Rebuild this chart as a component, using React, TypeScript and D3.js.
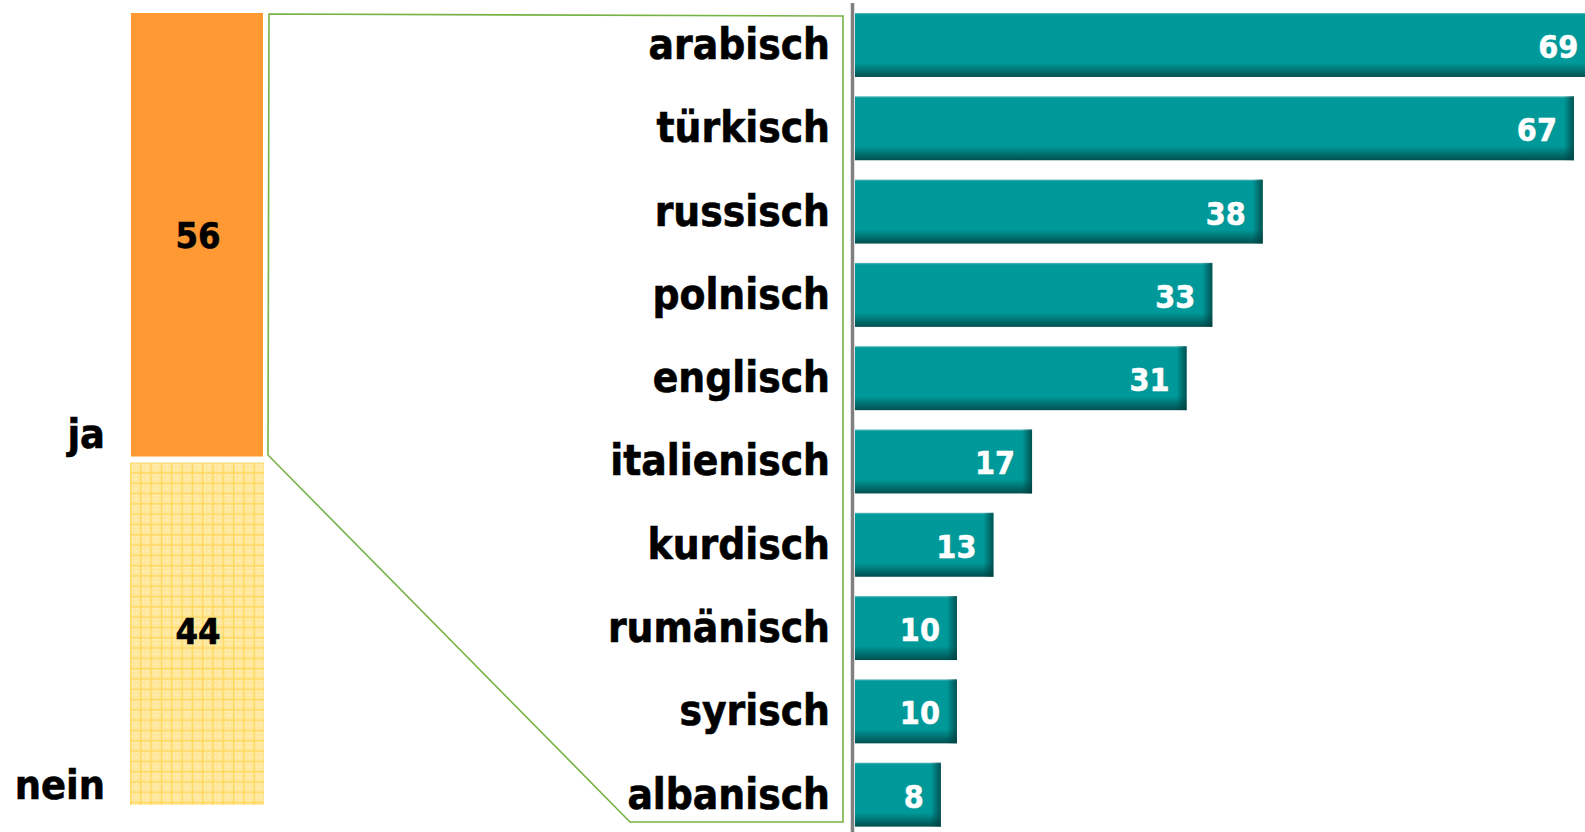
import React from "react";
import * as d3 from "d3";

const categories = ["arabisch", "türkisch", "russisch", "polnisch", "englisch", "italienisch", "kurdisch", "rumänisch", "syrisch", "albanisch"];
const values = [69, 67, 38, 33.3, 30.9, 16.5, 12.9, 9.5, 9.5, 8];
const splitLabels = ["ja", "nein"];
const splitValues = [56, 44];

const W = 1585;
const H = 832;
const FONT = "'DejaVu Sans Condensed', 'DejaVu Sans', sans-serif";

export default function App() {
  const y = d3.scaleBand<string>().domain(categories).range([3.34, 836.3]).paddingInner(0.232).paddingOuter(0.116);
  const x = d3.scaleLinear().domain([0, 100]).range([855, 855 + 1073]);
  const ys = d3.scaleLinear().domain([0, 100]).range([13, 805]);
  const stacks = d3.stack<any>().keys(splitLabels)([Object.fromEntries(splitLabels.map((k, i) => [k, splitValues[i]]))]);
  const bh = y.bandwidth();

  return (
    <svg width={W} height={H} style={{ position: "absolute", left: 0, top: 0, background: "#fff" }} fontFamily={FONT}>
      <defs>
        <linearGradient id="vgrad" x1="0" y1="0" x2="0" y2="1">
          <stop offset="0" stopColor="#5cbaba" />
          <stop offset="0.03" stopColor="#009999" />
          <stop offset="0.78" stopColor="#009999" />
          <stop offset="1" stopColor="#004f4f" />
        </linearGradient>
        <linearGradient id="hgrad" x1="0" y1="0" x2="1" y2="0">
          <stop offset="0" stopColor="#003f3f" stopOpacity="0" />
          <stop offset="1" stopColor="#003f3f" stopOpacity="0.8" />
        </linearGradient>
        <pattern id="grid" width="10.3" height="10.3" patternUnits="userSpaceOnUse" x="130" y="462">
          <rect width="10.3" height="10.3" fill="#FFE79C" />
          <rect x="2" y="2" width="1.2" height="1.2" fill="#fff" opacity="0.8" />
          <rect x="6" y="6" width="1.2" height="1.2" fill="#fff" opacity="0.8" />
          <rect x="6" y="2" width="1.2" height="1.2" fill="#fff" opacity="0.6" />
          <rect x="2" y="6" width="1.2" height="1.2" fill="#fff" opacity="0.6" />
          <rect x="0" y="0" width="1.4" height="10.3" fill="#FFD44F" opacity="0.8" />
          <rect x="0" y="0" width="10.3" height="1.4" fill="#FFD44F" opacity="0.8" />
        </pattern>
      </defs>

      {/* left stacked bar */}
      {stacks.map((s, i) => {
        const d = s[0];
        const y0 = ys(d[0]);
        const y1 = ys(d[1]);
        return (
          <g key={s.key}>
            <rect x={i === 0 ? 131 : 130} y={i === 0 ? y0 : y0 + 6} width={i === 0 ? 132 : 134} height={i === 0 ? y1 - y0 : y1 - y0 - 6}
              fill={i === 0 ? "#FF9933" : "url(#grid)"} />
            <text x={198} y={(y0 + y1) / 2 + 13} textAnchor="middle" fontSize={36} fontWeight="bold" fill="#000" stroke="#000" strokeWidth={0.6}>{splitValues[i]}</text>
            <text x={105} y={i === 0 ? 448 : 799} textAnchor="end" fontSize={41} fontWeight="bold" fill="#000" stroke="#000" strokeWidth={0.6}>{splitLabels[i]}</text>
          </g>
        );
      })}

      {/* connector polygon */}
      <path d={`M269,14 L843,16 L843,822 L630,822 L268,455 Z`} fill="none" stroke="#76B244" strokeWidth={1.6} />

      {/* axis line */}
      <line x1={852.5} x2={852.5} y1={3} y2={H} stroke="#808080" strokeWidth={3.5} />

      {/* bars */}
      {categories.map((c, i) => {
        const y0 = y(c)!;
        const xe = x(values[i]);
        return (
          <g key={c}>
            <rect x={855} y={y0} width={xe - 855} height={bh} fill="url(#vgrad)" />
            <rect x={xe - 10} y={y0} width={10} height={bh} fill="url(#hgrad)" />
            <text x={xe - 17} y={y0 + bh / 2 + 13} textAnchor="end" fontSize={32} fontWeight="bold" fill="#fff" stroke="#fff" strokeWidth={0.5}>{Math.round(values[i])}</text>
            <text x={830} y={y0 + bh / 2 + 14} textAnchor="end" fontSize={42} fontWeight="bold" fill="#000" stroke="#000" strokeWidth={0.6}>{c}</text>
          </g>
        );
      })}
    </svg>
  );
}
